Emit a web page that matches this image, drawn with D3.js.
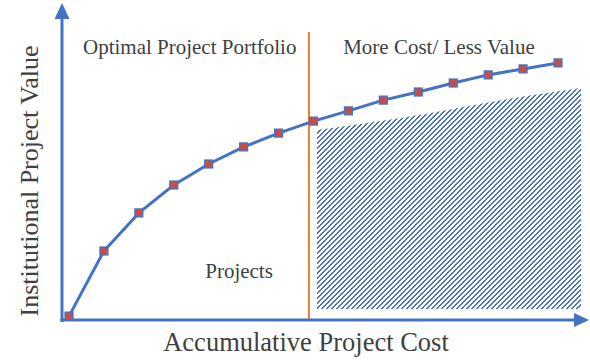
<!DOCTYPE html>
<html>
<head>
<meta charset="utf-8">
<script src="https://cdn.jsdelivr.net/npm/d3@7"></script>
<style>
  html, body { margin: 0; padding: 0; background: #fff; }
  svg { display: block; }
  text { font-family: "Liberation Serif", "Times New Roman", serif; fill: #404040; }
</style>
</head>
<body>
<script>
// Cumulative project cost (index of project in ranked order) and institutional value
const projectCost  = [0, 1, 2, 3, 4, 5, 6, 7, 8, 9, 10, 11, 12, 13, 14];
const projectValue = [1.3, 23, 35.7, 45, 52, 57.7, 62.3, 66.3, 69.7, 73.3, 76, 79, 81.7, 83.7, 85.7];

// Budget cut-off separating the optimal portfolio from the remainder
const cutoffCost = 6.87;

// Shaded "more cost / less value" region: top edge and base
const hatchCost = [7.1, 9.5, 12.9, 14.66];
const hatchTop  = [63.3, 67.3, 74.3, 77.3];
const hatchBase = 3.7;

// Labels
const xTitle = "Accumulative Project Cost";
const yTitle = "Institutional Project Value";
const regionLabels = [
  { text: "Optimal Project Portfolio", cost: 0.4,  value: 88.8 },
  { text: "More Cost/ Less Value",     cost: 7.85, value: 88.8 },
  { text: "Projects",                  cost: 3.9,  value: 14 }
];

const W = 590, H = 360;
const blue = "#4472C4", red = "#C0504D", orange = "#ED7D31";

const x = d3.scaleLinear().domain([0, 14]).range([69, 558]);
const y = d3.scaleLinear().domain([0, 100]).range([320, 20]);

const svg = d3.select("body").append("svg").attr("width", W).attr("height", H);

// Pixel-stepped diagonal hatch tile (2 of every 5 pixels blue in each row)
const T = 5;
const defs = svg.append("defs");
const pat = defs.append("pattern")
  .attr("id", "diag")
  .attr("patternUnits", "userSpaceOnUse")
  .attr("width", T).attr("height", T);
pat.append("rect").attr("width", T).attr("height", T).attr("fill", "#fff");
const cells = [];
for (let r = 0; r < T; r++) {
  cells.push([(T - 1 - r + T) % T, r]);
  cells.push([(T - r) % T, r]);
}
pat.selectAll("rect.c").data(cells).join("rect")
  .attr("class", "c")
  .attr("x", d => d[0]).attr("y", d => d[1])
  .attr("width", 1).attr("height", 1)
  .attr("fill", blue).attr("shape-rendering", "crispEdges");

// Hatched area
const area = d3.area()
  .x(d => x(d[0]))
  .y0(y(hatchBase))
  .y1(d => y(d[1]))
  .curve(d3.curveMonotoneX);
svg.append("path")
  .datum(hatchCost.map((c, i) => [c, hatchTop[i]]))
  .attr("d", area)
  .attr("fill", "url(#diag)");

// Cut-off line
svg.append("line")
  .attr("x1", x(cutoffCost)).attr("x2", x(cutoffCost))
  .attr("y1", y(96)).attr("y2", y(0))
  .attr("stroke", orange).attr("stroke-width", 2);

// Axes with arrowheads
const ax0 = 62, ay0 = 320;
svg.append("line").attr("x1", ax0).attr("x2", ax0).attr("y1", ay0 + 2).attr("y2", 16)
  .attr("stroke", blue).attr("stroke-width", 3);
svg.append("path").attr("d", `M${ax0},3 L${ax0 - 7.5},19 L${ax0 + 7.5},19 Z`).attr("fill", blue);
svg.append("line").attr("x1", ax0 - 1.5).attr("x2", 577).attr("y1", ay0).attr("y2", ay0)
  .attr("stroke", blue).attr("stroke-width", 3);
svg.append("path").attr("d", `M589,${ay0} L574,${ay0 - 7} L574,${ay0 + 7} Z`).attr("fill", blue);

// Value curve
const line = d3.line().x(d => x(d[0])).y(d => y(d[1]));
const pts = projectCost.map((c, i) => [c, projectValue[i]]);
svg.append("path").datum(pts).attr("d", line)
  .attr("fill", "none").attr("stroke", blue).attr("stroke-width", 3)
  .attr("stroke-linejoin", "round");

svg.append("g").selectAll("rect").data(pts).join("rect")
  .attr("x", d => x(d[0]) - 4).attr("y", d => y(d[1]) - 4)
  .attr("width", 8).attr("height", 8)
  .attr("fill", red).attr("stroke", blue).attr("stroke-width", 1.2);

// Region labels
svg.append("g").selectAll("text").data(regionLabels).join("text")
  .attr("x", d => x(d.cost)).attr("y", d => y(d.value))
  .attr("font-size", 21)
  .text(d => d.text);

// Axis titles
svg.append("text").attr("x", 306).attr("y", 351)
  .attr("text-anchor", "middle").attr("font-size", 26.5).text(xTitle);
svg.append("text")
  .attr("transform", "translate(38,181) rotate(-90)")
  .attr("text-anchor", "middle").attr("font-size", 26).text(yTitle);
</script>
</body>
</html>
